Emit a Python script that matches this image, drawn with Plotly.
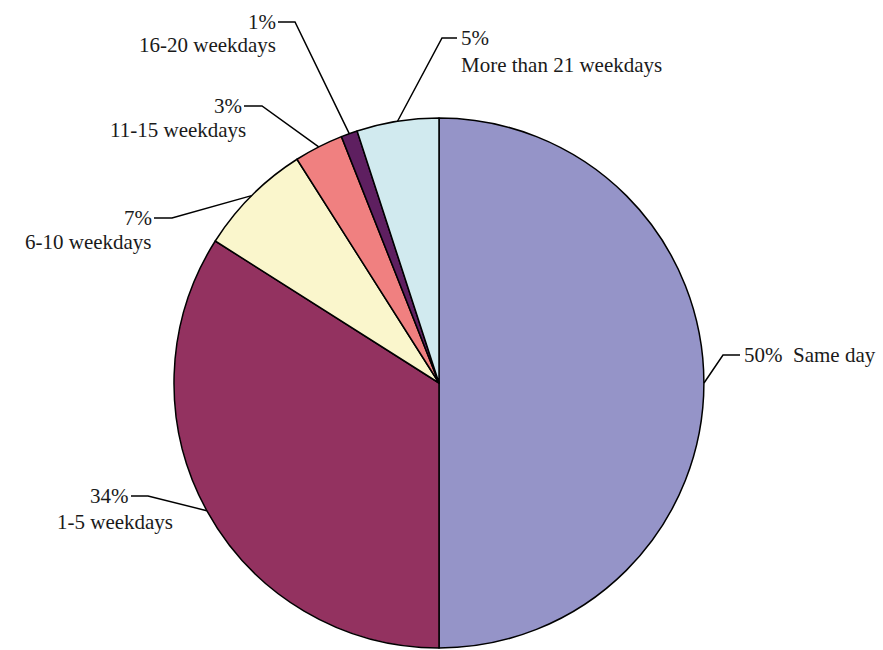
import math
import plotly.graph_objects as go

# Time to resolution, share of cases
categories = ["Same day", "1-5 weekdays", "6-10 weekdays", "11-15 weekdays",
              "16-20 weekdays", "More than 21 weekdays"]
shares = [50, 34, 7, 3, 1, 5]
colors = ["#9594C8", "#933260", "#FAF6CC", "#F08080", "#5E1F60", "#D1EAEF"]

W, H = 883, 650
CX, CY, R = 439, 383, 265          # pie centre and radius, in pixels
FONT = dict(family="Liberation Serif, Times New Roman, serif", size=21, color="#1a1a1a")

# Label layout per slice: elbow point of the leader, end of its horizontal tail,
# and text lines as (text, x, y, xanchor)
label_layout = [
    dict(elbow=(723, 355), tail=740,
         lines=[("{p}%\u00a0\u00a0{c}", 742, 355, "left")]),
    dict(elbow=(148, 496), tail=131,
         lines=[("{p}%", 131, 496, "right"), ("{c}", 115, 522, "center")]),
    dict(elbow=(172, 218), tail=154,
         lines=[("{p}%", 154, 218, "right"), ("{c}", 154, 242, "right")]),
    dict(elbow=(262, 106), tail=244,
         lines=[("{p}%", 244, 106, "right"), ("{c}", 248, 130, "right")]),
    dict(elbow=(295, 22), tail=278,
         lines=[("{p}%", 278, 22, "right"), ("{c}", 278, 45, "right")]),
    dict(elbow=(442, 38), tail=457,
         lines=[("{p}%", 459, 38, "left"), ("{c}", 459, 65, "left")]),
]


def px(x):
    return x / W


def py(y):
    return 1 - y / H


fig = go.Figure(go.Pie(
    labels=categories,
    values=shares,
    sort=False,
    direction="clockwise",
    rotation=0,
    marker=dict(colors=colors, line=dict(color="black", width=1.5)),
    textinfo="none",
    hoverinfo="label+percent",
    domain=dict(x=[px(CX - R), px(CX + R)], y=[py(CY + R), py(CY - R)]),
))

shapes = []
annotations = []
total = sum(shares)
cum = 0
for cat, val, lay in zip(categories, shares, label_layout):
    mid = (cum + val / 2) / total * 2 * math.pi
    cum += val
    ex = CX + R * math.sin(mid)
    ey = CY - R * math.cos(mid)
    bx, by = lay["elbow"]
    tx = lay["tail"]
    path = f"M {px(ex)},{py(ey)} L {px(bx)},{py(by)} L {px(tx)},{py(by)}"
    shapes.append(dict(type="path", xref="paper", yref="paper", path=path,
                       line=dict(color="black", width=1.5)))
    for text, x, y, anchor in lay["lines"]:
        annotations.append(dict(
            text=text.format(p=val, c=cat), x=px(x), y=py(y),
            xref="paper", yref="paper", xanchor=anchor, yanchor="middle",
            showarrow=False, font=FONT))

fig.update_layout(
    width=W, height=H,
    margin=dict(l=0, r=0, t=0, b=0),
    paper_bgcolor="white",
    plot_bgcolor="white",
    showlegend=False,
    shapes=shapes,
    annotations=annotations,
)

fig.write_html("out.html")
